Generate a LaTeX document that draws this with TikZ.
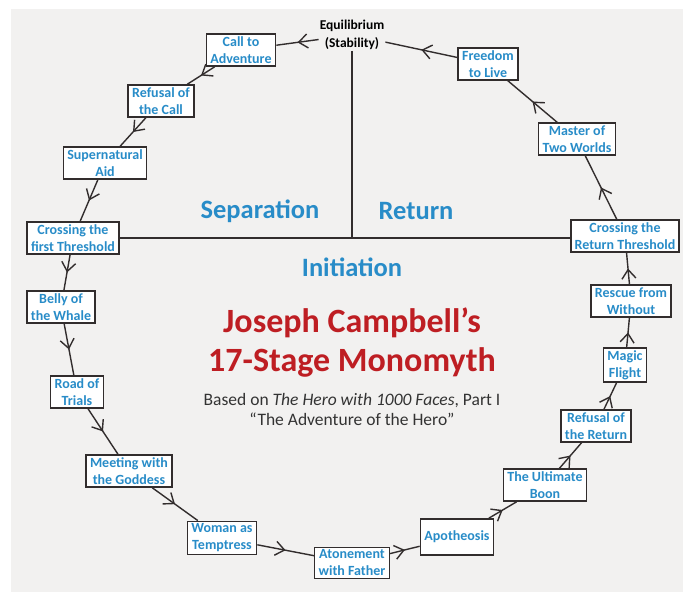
\documentclass[tikz,border=0pt]{standalone}
\usepackage{fontspec}
\setmainfont{Carlito}
\usetikzlibrary{arrows.meta,decorations.markings}
\definecolor{bg}{RGB}{242,241,240}
\definecolor{stageblue}{RGB}{40,140,200}
\definecolor{titlered}{RGB}{190,30,35}
\definecolor{ink}{RGB}{50,45,45}
\tikzset{
  stage/.style={draw=ink, line width=1.6pt, fill=white, text=stageblue,
    font=\fontsize{14}{17}\selectfont\bfseries, align=center,
    inner xsep=4pt, inner ysep=2.5pt},
  flow/.style={draw=ink, line width=1.4pt, postaction={decorate},
    decoration={markings, mark=at position 0.5 with
      {\arrow{Straight Barb[length=9pt,width=14pt]}}}},
  divider/.style={draw=ink, line width=1.4pt},
  phase/.style={text=stageblue, font=\fontsize{26.5}{30}\selectfont\bfseries},
}
\begin{document}
\begin{tikzpicture}[x=1pt,y=-1pt]
\useasboundingbox (0,0) rectangle (683,592);
\fill[bg] (11,9) rectangle (683,592);

% centre node
\node[font=\fontsize{13.5}{18}\selectfont\bfseries, text=black, align=center, inner sep=1pt]
  (eq) at (352,35) {Equilibrium\\(Stability)};

% stages
\node[stage] (s1) at (241,50) {Call to\\Adventure};
\node[stage] (s2) at (161,101) {Refusal of\\the Call};
\node[stage] (s3) at (105,163) {Supernatural\\Aid};
\node[stage] (s4) at (73,238) {Crossing the\\first Threshold};
\node[stage] (s5) at (61,307) {Belly of\\the Whale};
\node[stage] (s6) at (77,392) {Road of\\Trials};
\node[stage] (s7) at (129,471) {Meeting with\\the Goddess};
\node[stage] (s8) at (222,538) {Woman as\\Temptress};
\node[stage] (s9) at (352,563) {Atonement\\with Father};
\node[stage, minimum height=36pt] (s10) at (457,537) {Apotheosis};
\node[stage] (s11) at (545,485) {The Ultimate\\Boon};
\node[stage] (s12) at (596,426) {Refusal of\\the Return};
\node[stage] (s13) at (625,365) {Magic\\Flight};
\node[stage] (s14) at (631,301) {Rescue from\\Without};
\node[stage] (s15) at (625,236) {Crossing the\\Return Threshold};
\node[stage] (s16) at (577,139) {Master of\\Two Worlds};
\node[stage] (s17) at (488,64) {Freedom\\to Live};

% dividers
\coordinate (junction) at (eq.south |- s4.east);
\draw[divider] (s4.east) -- (s15.west |- s4.east);
\draw[divider] (eq.south) -- (junction);

% flow connectors
\draw[flow] (eq) -- (s1);
\draw[flow] (s1) -- (s2);
\draw[flow] (s2) -- (s3);
\draw[flow] (s3) -- (s4);
\draw[flow] (s4) -- (s5);
\draw[flow] (s5) -- (s6);
\draw[flow] (s6) -- (s7);
\draw[flow] (s7) -- (s8);
\draw[flow] (s8) -- (s9);
\draw[flow] (s9) -- (s10);
\draw[flow] (s10) -- (s11);
\draw[flow] (s11) -- (s12);
\draw[flow] (s12) -- (s13);
\draw[flow] (s13) -- (s14);
\draw[flow] (s14) -- (s15);
\draw[flow] (s15) -- (s16);
\draw[flow] (s16) -- (s17);
\draw[flow] (s17) -- (eq);

% phase labels
\node[phase] (sep) at (260,211) {Separation};
\node[phase] (ret) at (416,211) {Return};
\node[phase] (ini) at (352,267) {Initiation};

% title
\node[text=titlered, font=\fontsize{34}{39}\selectfont\bfseries, align=center]
  (title) at (352,343) {Joseph Campbell’s\\17-Stage Monomyth};
\node[text=black!80, font=\fontsize{17.5}{20}\selectfont, align=center]
  (sub) at (352,409) {Based on \textit{The Hero with 1000 Faces}, Part I\\“The Adventure of the Hero”};
\end{tikzpicture}
\end{document}
